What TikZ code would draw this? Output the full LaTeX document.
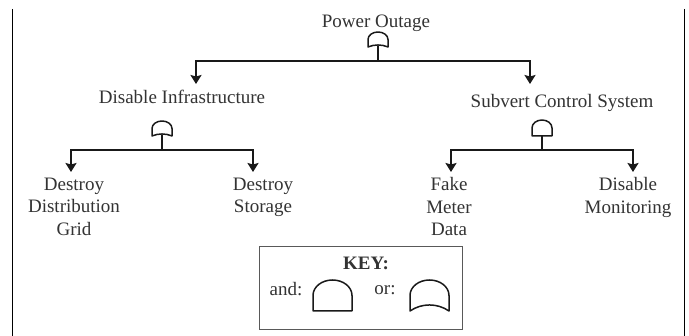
\documentclass[tikz,border=0pt]{standalone}
\usepackage{fontspec}
\setmainfont{Liberation Serif}
\usetikzlibrary{arrows.meta}
\tikzset{
  lbl/.style={inner sep=0pt,align=center,font=\fontsize{19}{22.5}\selectfont,text=black!80},
  conn/.style={line width=1.8pt,black!90},
  arr/.style={conn,-{Stealth[length=9pt,width=11pt,inset=1.5pt]}},
  gatesym/.style={line width=1.5pt,black!90,line join=round},
  frameline/.style={line width=1pt,black}
}
% and-gate: centre x, top y, half width, height
\newcommand{\andgate}[4]{%
  \draw[gatesym] (#1-#3,#2+#4) -- (#1+#3,#2+#4) -- (#1+#3,#2+#4*0.5)
    .. controls (#1+#3,#2+#4*0.22) and (#1+#3*0.55,#2) .. (#1,#2)
    .. controls (#1-#3*0.55,#2) and (#1-#3,#2+#4*0.22) .. (#1-#3,#2+#4*0.5) -- cycle;}
% or-gate: centre x, top y, half width, height, control height of the lower edge
\newcommand{\orgate}[5]{%
  \draw[gatesym] (#1-#3,#2+#4) .. controls (#1-#3*0.4,#2+#4*#5) and (#1+#3*0.4,#2+#4*#5) .. (#1+#3,#2+#4)
    -- (#1+#3,#2+#4*0.5)
    .. controls (#1+#3,#2+#4*0.22) and (#1+#3*0.55,#2) .. (#1,#2)
    .. controls (#1-#3*0.55,#2) and (#1-#3,#2+#4*0.22) .. (#1-#3,#2+#4*0.5) -- cycle;}
\begin{document}
\begin{tikzpicture}[x=1pt,y=-1pt]
\useasboundingbox (0,0) rectangle (689,336);
\fill[white] (0,0) rectangle (689,336);
\draw[frameline] (12.5,9) -- (12.5,336);
\draw[frameline] (684,9) -- (684,336);
% labels
\node[lbl] (top) at (376,23.5) {Power Outage};
\node[lbl] (inf) at (182,97) {Disable Infrastructure};
\node[lbl] (sub) at (562,103) {Subvert Control System};
\node[lbl,anchor=north] (ddg) at (74,177.5) {Destroy\\Distribution\\Grid};
\node[lbl,anchor=north] (ds) at (263,177.5) {Destroy\\Storage};
\node[lbl,anchor=north] (fmd) at (449,177.5) {Fake\\Meter\\Data};
\node[lbl,anchor=north] (dm) at (628,177.5) {Disable\\Monitoring};
% gates
\orgate{378}{32}{10}{15}{0.82}
\orgate{162}{121}{10}{15}{0.82}
\andgate{542}{120}{10}{16}
% junctions
\coordinate (g1) at (378,46);
\coordinate (j1) at (378,61);
\coordinate (l1) at (196,61);
\coordinate (r1) at (530,61);
\coordinate (g2) at (162,135);
\coordinate (j2) at (162,150);
\coordinate (l2) at (71,150);
\coordinate (r2) at (253,150);
\coordinate (g3) at (542,136);
\coordinate (j3) at (542,150);
\coordinate (l3) at (451,150);
\coordinate (r3) at (633,150);
\draw[conn] (g1) -- (j1);
\draw[conn] (g2) -- (j2);
\draw[conn] (g3) -- (j3);
\draw[arr] (j1) -- (l1) -- (196,84);
\draw[arr] (j1) -- (r1) -- (530,84);
\draw[arr] (j2) -- (l2) -- (71,172);
\draw[arr] (j2) -- (r2) -- (253,172);
\draw[arr] (j3) -- (l3) -- (451,172);
\draw[arr] (j3) -- (r3) -- (633,172);
% key
\node[draw=black!65,line width=1pt,minimum width=203pt,minimum height=83pt,anchor=north west,inner sep=0pt] (keybox) at (259,246) {};
\node[lbl,font=\fontsize{19}{22}\selectfont\bfseries] (keyt) at (366,263) {KEY:};
\node[lbl] (andl) at (286,289) {and:};
\node[lbl] (orl) at (385,290) {or:};
\andgate{332.5}{280}{19.5}{31}
\orgate{429.5}{280}{19.5}{31}{0.74}
\end{tikzpicture}
\end{document}
